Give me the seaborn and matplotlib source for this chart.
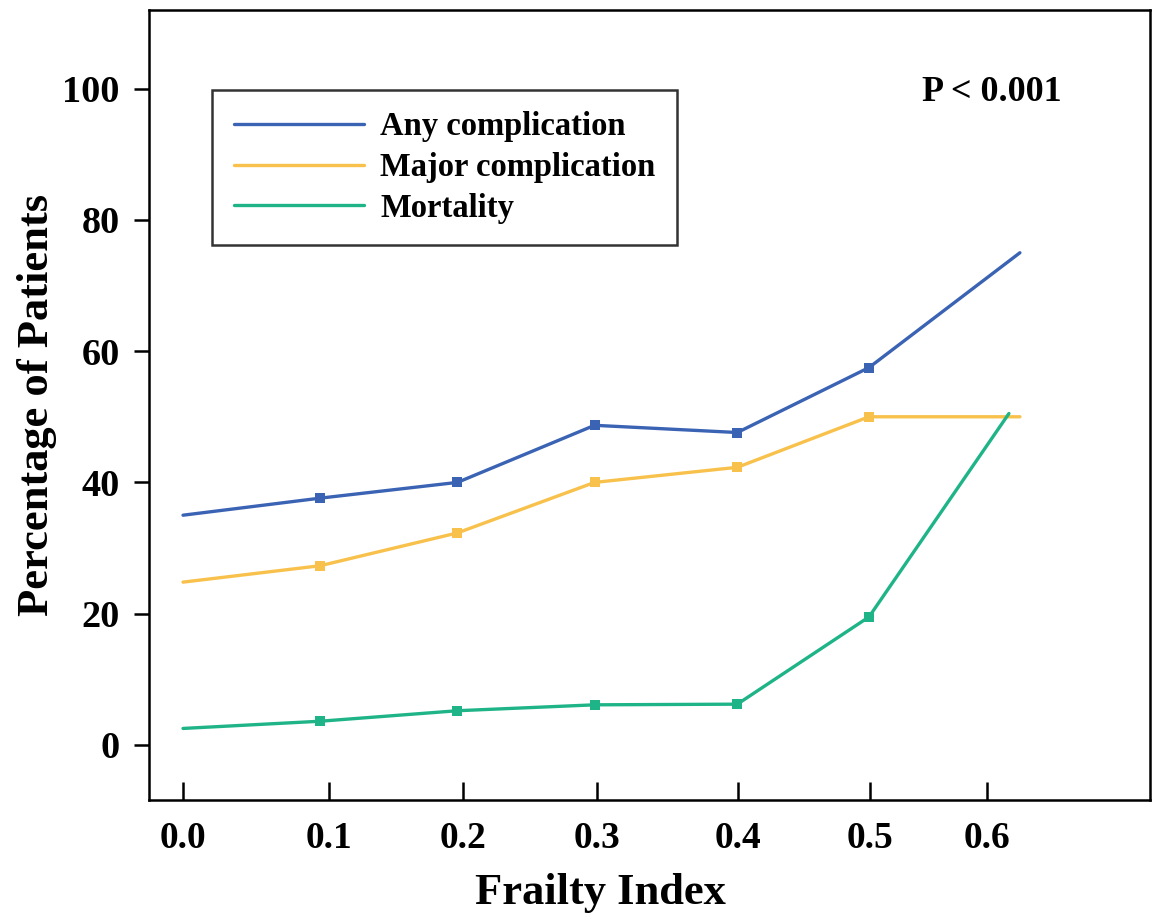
import matplotlib
matplotlib.use("Agg")
import matplotlib.pyplot as plt
from matplotlib.lines import Line2D
import seaborn as sns
import pandas as pd

# ---- data ----
series_names = ["Any complication", "Major complication", "Mortality"]
x_any = [0.0, 0.1, 0.2, 0.3, 0.404, 0.5, 0.61]
y_any = [35.0, 37.6, 40.0, 48.7, 47.6, 57.5, 75.0]
x_major = [0.0, 0.1, 0.2, 0.3, 0.404, 0.5, 0.61]
y_major = [24.8, 27.3, 32.3, 40.0, 42.3, 50.0, 50.0]
x_mort = [0.0, 0.1, 0.2, 0.3, 0.404, 0.5, 0.602]
y_mort = [2.5, 3.6, 5.2, 6.1, 6.2, 19.5, 50.5]
xtick_labels = ["0.0", "0.1", "0.2", "0.3", "0.4", "0.5", "0.6"]
ytick_values = [0, 20, 40, 60, 80, 100]
p_text = "P < 0.001"

# ---- style ----
sns.set_theme(style="ticks")
plt.rcParams["font.family"] = ["Liberation Serif", "DejaVu Serif"]
plt.rcParams["font.weight"] = "bold"
plt.rcParams["text.color"] = "black"
plt.rcParams["axes.labelcolor"] = "black"
plt.rcParams["xtick.color"] = "black"
plt.rcParams["ytick.color"] = "black"

colors = ["#3b63b4", "#f8c14b", "#1fb487"]

fig = plt.figure(figsize=(11.65, 9.23), dpi=100)
ax = fig.add_axes([0.1279, 0.1333, 0.8592, 0.8559])

data = [(x_any, y_any), (x_major, y_major), (x_mort, y_mort)]
for (xs, ys), name, c in zip(data, series_names, colors):
    df = pd.DataFrame({"x": xs, "y": ys})
    sns.lineplot(data=df, x="x", y="y", ax=ax, color=c, linewidth=2.4,
                 sort=False, marker="s", markersize=7, markeredgewidth=0,
                 markevery=list(range(1, len(xs) - 1)), legend=False)

ax.set_xlim(-0.0248, 0.7048)
ax.set_ylim(-8.4, 112)

# tick positions as drawn in the reference axis
xtick_pos = [0.0, 0.1064, 0.204, 0.3017, 0.4045, 0.5007, 0.586]
ax.set_xticks(xtick_pos)
ax.set_xticklabels(xtick_labels)
ax.set_yticks(ytick_values)
ax.set_yticklabels([str(v) for v in ytick_values])

ax.tick_params(axis="x", direction="in", length=13, width=1.8, pad=15,
               labelsize=27, colors="black")
ax.tick_params(axis="y", direction="out", length=11, width=1.8, pad=10,
               labelsize=27.5, colors="black")
for lab in ax.get_xticklabels() + ax.get_yticklabels():
    lab.set_fontweight("bold")

for s in ax.spines.values():
    s.set_visible(True)
    s.set_linewidth(1.8)
    s.set_color("black")

ax.set_xlabel("Frailty Index", fontsize=32, fontweight="bold", color="black")
ax.xaxis.set_label_coords(0.4505, -0.092)
ax.set_ylabel("Percentage of Patients", fontsize=32, fontweight="bold",
              color="black")
ax.yaxis.set_label_coords(-0.092, 0.5)

handles = [Line2D([0], [0], color=c, lw=2.4) for c in colors]
leg = ax.legend(handles, series_names, loc="upper left",
                bbox_to_anchor=(0.063, 0.899), borderaxespad=0,
                prop={"weight": "bold", "size": 23.5},
                handlelength=4.0, handletextpad=0.5, labelspacing=0.3,
                borderpad=0.66, frameon=True, fancybox=False)
leg.get_frame().set_edgecolor("black")
leg.get_frame().set_linewidth(1.8)
for t in leg.get_texts():
    t.set_color("black")

ax.text(0.912, 0.895, p_text, transform=ax.transAxes, ha="right",
        va="center", fontsize=26, fontweight="bold", color="black")

fig.savefig("out.png", dpi=100)
